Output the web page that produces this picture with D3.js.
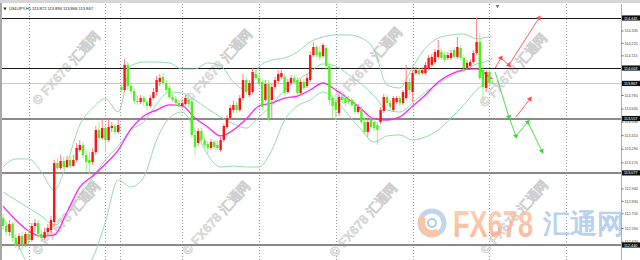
<!DOCTYPE html>
<html>
<head>
<meta charset="utf-8">
<script src="https://cdn.jsdelivr.net/npm/d3@7"></script>
<style>
  body { margin: 0; background: #fff; }
  #chart { width: 640px; height: 260px; overflow: hidden; }
  text { font-family: "Liberation Sans", "DejaVu Sans", sans-serif; }
</style>
</head>
<body>
<div id="chart"></div>
<script>
// USDJPY H1 candles (bar index = position in array)
const opens = [
  112.678,112.608,112.555,112.625,112.502,112.449,112.519,112.449,112.537,112.484,
  112.608,112.634,112.537,112.502,112.555,112.572,112.643,113.164,113.120,113.182,
  113.129,113.191,113.138,113.191,113.279,113.323,113.235,113.191,113.173,113.261,
  113.456,113.385,113.473,113.367,113.473,113.491,113.438,113.836,113.809,114.030,
  113.844,113.800,113.712,113.703,113.738,113.703,113.668,113.738,113.791,113.880,
  113.924,113.871,113.827,113.747,113.730,113.694,113.668,113.685,113.721,113.703,
  113.412,113.341,113.447,113.367,113.332,113.297,113.350,113.323,113.279,113.367,
  113.482,113.562,113.632,113.677,113.632,113.738,113.897,113.765,113.791,113.950,
  113.915,113.880,113.721,113.862,113.721,113.836,113.889,113.924,113.924,113.791,
  113.871,113.915,113.897,113.783,113.880,113.844,113.897,114.118,114.189,114.145,
  114.109,114.180,114.021,113.738,113.703,113.606,113.747,113.738,113.730,113.721,
  113.677,113.615,113.632,113.526,113.438,113.544,113.526,113.500,113.526,113.624,
  113.747,113.694,113.632,113.703,113.738,113.694,113.738,113.880,113.791,113.959,
  113.986,113.959,113.959,114.003,114.030,114.056,114.101,114.145,114.118,114.092,
  114.092,114.162,114.101,114.180,114.092,114.003,114.021,114.056,114.136,114.233,
  113.986,113.827,113.968,113.872
];
const highs = [
  112.714,112.643,112.661,112.643,112.537,112.546,112.555,112.555,112.572,112.634,
  112.670,112.661,112.572,112.590,112.625,112.696,113.191,113.208,113.235,113.217,
  113.226,113.226,113.235,113.341,113.367,113.350,113.279,113.261,113.297,113.491,
  113.526,113.562,113.500,113.544,113.526,113.509,113.562,113.862,114.083,114.056,
  113.862,113.827,113.756,113.765,113.756,113.721,113.765,113.827,113.933,113.950,
  113.959,113.897,113.853,113.774,113.756,113.721,113.730,113.765,113.747,113.730,
  113.456,113.473,113.473,113.394,113.359,113.376,113.367,113.359,113.394,113.509,
  113.588,113.677,113.712,113.703,113.765,113.950,113.924,113.897,114.003,113.986,
  113.950,113.906,113.897,113.897,113.862,113.924,113.986,113.986,113.950,113.906,
  113.942,113.942,113.924,113.906,113.906,113.950,114.145,114.233,114.207,114.198,
  114.224,114.207,114.048,113.765,113.730,113.774,113.774,113.765,113.756,113.738,
  113.703,113.685,113.668,113.562,113.562,113.571,113.553,113.526,113.659,113.774,
  113.765,113.721,113.756,113.756,113.756,113.809,114.030,113.915,113.986,114.012,
  114.003,114.012,114.056,114.118,114.127,114.171,114.251,114.171,114.145,114.145,
  114.162,114.189,114.277,114.207,114.118,114.074,114.083,114.162,114.445,114.313,
  114.030,113.986,113.986,113.896
];
const lows = [
  112.572,112.519,112.519,112.467,112.413,112.396,112.405,112.422,112.449,112.467,
  112.555,112.502,112.467,112.484,112.519,112.546,112.608,113.102,113.102,113.111,
  113.120,113.120,113.129,113.173,113.261,113.208,113.085,113.067,113.147,113.235,
  113.359,113.367,113.261,113.350,113.438,113.412,113.420,113.791,113.791,113.809,
  113.774,113.685,113.677,113.685,113.668,113.632,113.650,113.721,113.765,113.844,
  113.853,113.791,113.730,113.703,113.668,113.650,113.650,113.668,113.659,113.385,
  113.235,113.314,113.350,113.297,113.235,113.279,113.288,113.279,113.261,113.350,
  113.465,113.544,113.606,113.606,113.615,113.721,113.765,113.747,113.774,113.897,
  113.844,113.632,113.703,113.535,113.562,113.818,113.871,113.906,113.765,113.774,
  113.853,113.862,113.765,113.765,113.809,113.827,113.880,114.101,114.101,114.074,
  114.092,113.986,113.677,113.562,113.544,113.579,113.694,113.668,113.685,113.659,
  113.597,113.597,113.509,113.420,113.394,113.465,113.447,113.323,113.509,113.606,
  113.668,113.632,113.615,113.685,113.668,113.677,113.721,113.765,113.703,113.942,
  113.933,113.942,113.942,113.986,114.012,114.039,114.083,114.074,114.056,114.074,
  114.074,114.092,114.083,114.074,113.968,113.986,113.995,114.039,114.118,113.897,
  113.721,113.791,113.853,113.866
];
const closes = [
  112.608,112.555,112.625,112.502,112.449,112.519,112.449,112.537,112.484,112.608,
  112.634,112.537,112.502,112.555,112.590,112.661,113.164,113.120,113.182,113.129,
  113.191,113.138,113.191,113.297,113.323,113.235,113.173,113.164,113.261,113.456,
  113.385,113.473,113.367,113.482,113.491,113.438,113.500,113.809,114.030,113.844,
  113.800,113.712,113.703,113.738,113.703,113.668,113.738,113.791,113.897,113.915,
  113.871,113.809,113.747,113.721,113.694,113.668,113.694,113.738,113.685,113.412,
  113.306,113.447,113.367,113.323,113.297,113.350,113.306,113.297,113.367,113.491,
  113.562,113.650,113.677,113.632,113.738,113.897,113.791,113.871,113.968,113.915,
  113.862,113.659,113.862,113.562,113.836,113.897,113.950,113.959,113.783,113.880,
  113.915,113.880,113.783,113.880,113.827,113.915,114.118,114.189,114.118,114.101,
  114.207,114.021,113.721,113.668,113.632,113.747,113.721,113.694,113.703,113.677,
  113.615,113.659,113.526,113.438,113.526,113.482,113.473,113.456,113.632,113.747,
  113.694,113.659,113.738,113.738,113.694,113.791,113.880,113.809,113.959,113.986,
  113.950,113.986,114.030,114.092,114.101,114.145,114.162,114.092,114.074,114.118,
  114.136,114.101,114.189,114.092,114.003,114.048,114.056,114.136,114.233,113.915,
  113.836,113.968,113.871,113.867
];

// indicator lines, sampled at these bars
const bandIdx = [0,4,8,12,16,20,24,28,32,36,40,44,48,52,56,60,64,68,72,76,
                 80,84,88,92,96,100,104,108,112,116,120,124,128,132,136,140,144,148,152,153];
const upperBand = [
  113.129,113.200,113.200,113.085,112.926,113.164,113.500,113.650,113.730,113.615,
  114.021,114.056,114.056,114.048,113.995,113.995,114.048,114.021,113.880,113.809,
  114.012,114.074,114.092,114.145,114.233,114.277,114.295,114.295,114.268,114.162,
  113.853,113.827,114.012,114.180,114.268,114.295,114.304,114.260,114.277,114.277
];
const midBand = [
  112.908,112.837,112.767,112.696,112.617,112.705,112.873,113.032,113.191,113.314,
  113.456,113.526,113.685,113.791,113.783,113.721,113.641,113.571,113.509,113.473,
  113.571,113.677,113.809,113.897,113.968,114.039,114.021,113.942,113.862,113.756,
  113.632,113.615,113.694,113.791,113.862,113.933,113.986,114.039,114.074,114.092
];
const lowerBand = [
  112.678,112.484,112.290,112.290,112.290,112.263,112.219,112.325,112.643,113.014,
  112.952,113.041,113.367,113.562,113.615,113.456,113.235,113.129,113.138,113.129,
  113.129,113.279,113.544,113.668,113.721,113.791,113.721,113.588,113.456,113.350,
  113.403,113.412,113.367,113.394,113.456,113.562,113.677,113.809,113.897,113.924
];
const maVals = [
  112.784,112.661,112.564,112.519,112.528,112.731,112.952,113.049,113.155,113.279,
  113.465,113.579,113.632,113.677,113.668,113.562,113.482,113.403,113.456,113.553,
  113.668,113.694,113.738,113.756,113.809,113.871,113.809,113.730,113.641,113.553,
  113.544,113.571,113.668,113.765,113.880,113.950,113.986,113.995,113.924,113.906
];

// horizontal levels, bid, axis
const blackLevels = [114.445, 114.003];
const grayLevels = [113.557, 113.077, 112.440];
const bidPrice = 113.867;
const axisTicks = [114.335, 114.225, 114.115, 113.765, 113.645, 113.530, 113.410,
                   113.290, 113.170, 112.940, 112.830, 112.720, 112.590, 112.470];
const gridBars = [8, 32, 56, 80, 104, 128, 152, 176];
const separatorBar = 36.6;
const lastBar = 193;

// projected paths
const redABars = [153.8, 155.6, 158.1, 167.5];
const redAPrices = [114.003, 114.092, 114.030, 114.445];
const redBBars = [160.3, 164.7];
const redBPrices = [113.571, 113.730];
const greenBars = [153.8, 158.1, 160.3, 164.0, 168.4];
const greenPrices = [113.968, 113.571, 113.403, 113.526, 113.270];

const title = 'USDJPY,H1  113.872 113.896 113.866 113.867';

const width = 640, height = 260;
const plotL = 2, plotR = 621, plotT = 4;

const $svg = d3.select('#chart').append('svg')
  .attr('width', width)
  .attr('height', height);

const x = d3.scaleLinear().domain([0, lastBar]).range([3, 3 + lastBar * 3.2]);
const y = d3.scaleLinear().domain([112.440, 114.445]).range([245, 18]);

const $defs = $svg.append('defs');
$defs.append('clipPath').attr('id', 'plotclip')
  .append('rect')
  .attr('x', plotL).attr('y', plotT)
  .attr('width', plotR - plotL).attr('height', height - plotT);

// frame
$svg.append('rect').attr('width', width).attr('height', height).attr('fill', '#fff');
$svg.append('rect').attr('width', width).attr('height', 3).attr('fill', '#d6d6d6');
$svg.append('rect').attr('x', 0).attr('y', 3).attr('width', 2).attr('height', height).attr('fill', '#a8a8a8');

const $plot = $svg.append('g').attr('clip-path', 'url(#plotclip)');

// vertical dotted grid
$plot.selectAll('.vgrid')
  .data(gridBars.concat([separatorBar]))
  .enter().append('line')
  .attr('x1', d => Math.round(x(d)) + 0.5)
  .attr('x2', d => Math.round(x(d)) + 0.5)
  .attr('y1', plotT)
  .attr('y2', height)
  .attr('stroke', '#999')
  .attr('stroke-width', 1)
  .attr('stroke-dasharray', '1,2');

// watermarks
const $wm = $plot.append('g');
[[38, 106], [190, 104], [340, 102], [485, 108], [38, 256], [188, 256], [335, 258], [486, 255]]
  .forEach(p => {
    $wm.append('text')
      .attr('transform', `translate(${p[0]},${p[1]}) rotate(-48)`)
      .attr('font-family', '"Noto Sans CJK SC", sans-serif')
      .attr('font-weight', 700)
      .attr('font-size', 13)
      .attr('fill', '#dcdcdc')
      .attr('stroke', '#cfcfcf')
      .attr('stroke-width', 0.4)
      .text('© FX678 汇通网');
  });

// big logo
const $logo = $plot.append('g').attr('opacity', 0.75);
$logo.append('circle').attr('cx', 432).attr('cy', 223).attr('r', 12)
  .attr('fill', 'none').attr('stroke', '#a9c6ea').attr('stroke-width', 5);
$logo.append('path')
  .attr('transform', 'translate(432,223)')
  .attr('d', d3.arc()({innerRadius: 7, outerRadius: 14, startAngle: Math.PI * 0.8, endAngle: Math.PI * 1.7}))
  .attr('fill', '#f6b38a');
$logo.append('circle').attr('cx', 432).attr('cy', 223).attr('r', 4)
  .attr('fill', 'none').attr('stroke', '#9ab8e0').attr('stroke-width', 2);
const grad = $defs.append('linearGradient').attr('id', 'fxgrad')
  .attr('x1', 0).attr('y1', 0).attr('x2', 0).attr('y2', 1);
grad.append('stop').attr('offset', 0).attr('stop-color', '#fbc99a');
grad.append('stop').attr('offset', 1).attr('stop-color', '#f59a7a');
$logo.append('text')
  .attr('x', 453).attr('y', 237)
  .attr('font-family', 'Roboto, sans-serif').attr('font-weight', 700)
  .attr('font-size', 36)
  .attr('textLength', 80).attr('lengthAdjust', 'spacingAndGlyphs')
  .attr('fill', 'url(#fxgrad)')
  .text('FX678');
$logo.append('text')
  .attr('x', 543).attr('y', 233)
  .attr('font-family', '"Noto Sans CJK SC", sans-serif').attr('font-weight', 700)
  .attr('font-size', 27)
  .attr('fill', '#9fc2ea')
  .text('汇通网');

// level lines
$plot.selectAll('.blk')
  .data(blackLevels).enter().append('line')
  .attr('x1', plotL).attr('x2', plotR)
  .attr('y1', d => Math.round(y(d)) + 0.5).attr('y2', d => Math.round(y(d)) + 0.5)
  .attr('stroke', '#1a1a1a').attr('stroke-width', 1.2);
$plot.selectAll('.gry')
  .data(grayLevels).enter().append('line')
  .attr('x1', plotL).attr('x2', plotR)
  .attr('y1', d => Math.round(y(d))).attr('y2', d => Math.round(y(d)))
  .attr('stroke', '#8a8a8a').attr('stroke-width', 2);
$plot.append('line')
  .attr('x1', plotL).attr('x2', plotR)
  .attr('y1', Math.round(y(bidPrice)) + 0.5).attr('y2', Math.round(y(bidPrice)) + 0.5)
  .attr('stroke', '#c3ccd6').attr('stroke-width', 1);

// bands and moving average
const band = vals => d3.line()
  .x((d, i) => x(bandIdx[i]))
  .y(d => y(d))
  .curve(d3.curveMonotoneX)(vals);

[upperBand, midBand, lowerBand].forEach(vals => {
  $plot.append('path')
    .attr('d', band(vals))
    .attr('fill', 'none')
    .attr('stroke', '#86d8a6')
    .attr('stroke-width', 0.9);
});
$plot.append('path')
  .attr('d', band(maVals))
  .attr('fill', 'none')
  .attr('stroke', '#ff22ff')
  .attr('stroke-width', 1.3);

// candles
const candles = opens.map((o, i) => ({i, o, h: highs[i], l: lows[i], c: closes[i]}));
const up = d => d.c >= d.o;
const $candles = $plot.append('g').selectAll('.candle')
  .data(candles).enter().append('g');
$candles.append('line')
  .attr('x1', d => x(d.i)).attr('x2', d => x(d.i))
  .attr('y1', d => y(d.h)).attr('y2', d => y(d.l))
  .attr('stroke', d => up(d) ? '#ff7070' : '#8cf070')
  .attr('stroke-width', 0.9);
$candles.append('rect')
  .attr('x', d => x(d.i) - 1.2)
  .attr('width', 2.4)
  .attr('y', d => y(Math.max(d.o, d.c)))
  .attr('height', d => Math.max(1, Math.abs(y(d.o) - y(d.c))))
  .attr('fill', d => up(d) ? '#ff1414' : '#4cf01c');

// projections
const proj = (bars, prices, colour) => {
  const pts = bars.map((b, i) => [x(b), y(prices[i])]);
  $plot.append('path')
    .attr('d', d3.line()(pts))
    .attr('fill', 'none')
    .attr('stroke', colour)
    .attr('stroke-width', 0.9);
  pts.slice(1).forEach((p, i) => {
    const q = pts[i];
    const ang = Math.atan2(p[1] - q[1], p[0] - q[0]) * 180 / Math.PI + 90;
    $plot.append('path')
      .attr('d', d3.symbol(d3.symbolTriangle, 12)())
      .attr('transform', `translate(${p[0]},${p[1]}) rotate(${ang})`)
      .attr('fill', colour);
  });
};
proj(redABars, redAPrices, '#ff4a4a');
proj(redBBars, redBPrices, '#ff4a4a');
proj(greenBars, greenPrices, '#3ad83a');

// price axis
$svg.append('rect').attr('x', plotR).attr('y', plotT).attr('width', width - plotR).attr('height', height).attr('fill', '#fff');
const yAxis = d3.axisRight(y)
  .tickValues(axisTicks)
  .tickSize(2)
  .tickPadding(1)
  .tickFormat(d3.format('.3f'));
$svg.append('g')
  .attr('class', 'axis y')
  .attr('transform', `translate(${plotR + 0.5},0)`)
  .call(yAxis)
  .call(g => g.select('.domain').attr('stroke', '#b0b0b0').attr('d', `M0,${plotT}V${height}`))
  .call(g => g.selectAll('.tick line').attr('stroke', '#666'))
  .call(g => g.selectAll('.tick text').attr('font-size', 3.8).attr('fill', '#444'));

const boxed = blackLevels.concat([bidPrice], grayLevels);
const $box = $svg.selectAll('.lbl').data(boxed).enter().append('g')
  .attr('transform', d => `translate(${plotR + 1},${y(d)})`);
$box.append('rect').attr('x', 0).attr('y', -2.6).attr('width', width - plotR - 1).attr('height', 5.2).attr('fill', '#111');
$box.append('text').attr('x', 2).attr('y', 1.5).attr('font-size', 3.8).attr('fill', '#fff')
  .text(d => d3.format('.3f')(d));

// top marker and title
$svg.append('path')
  .attr('d', d3.symbol(d3.symbolTriangle, 6)())
  .attr('transform', `translate(${x(154.5)},6) rotate(180)`)
  .attr('fill', '#777');
$svg.append('path')
  .attr('d', d3.symbol(d3.symbolTriangle, 5)())
  .attr('transform', 'translate(5,8.5) rotate(180)')
  .attr('fill', '#333');
$svg.append('text')
  .attr('x', 9).attr('y', 10)
  .attr('font-size', 4.2)
  .attr('fill', '#222')
  .attr('textLength', 84)
  .text(title);
</script>
</body>
</html>
